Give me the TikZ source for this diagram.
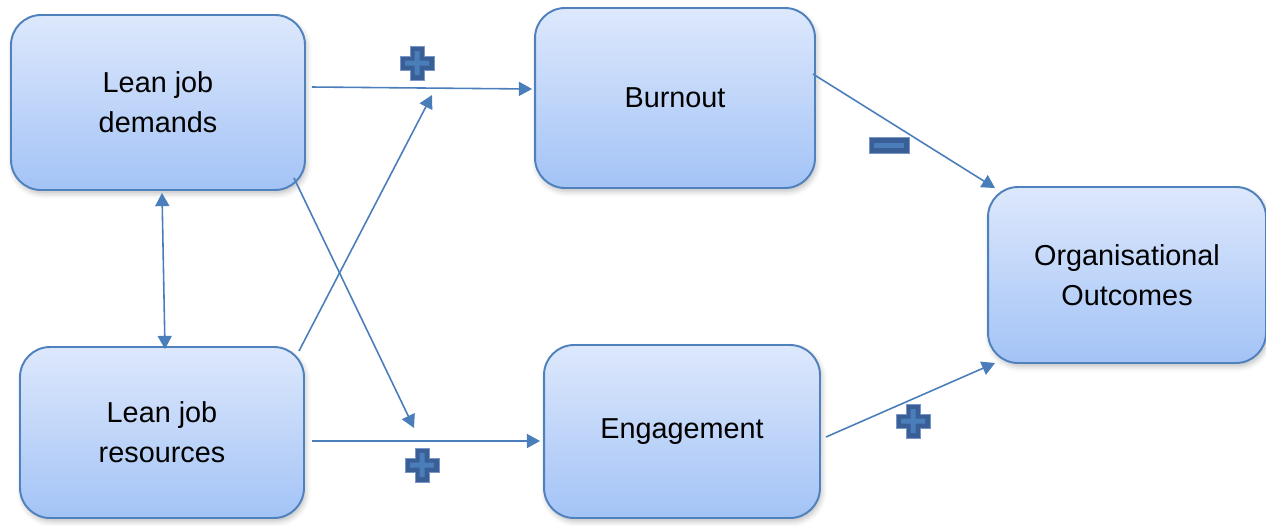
\documentclass[tikz,border=0pt]{standalone}
\usepackage{fontspec}
\setmainfont{Liberation Sans}
\definecolor{boxtop}{RGB}{221, 232, 252}
\definecolor{boxbot}{RGB}{163, 195, 246}
\definecolor{boxedge}{RGB}{79, 129, 189}
\definecolor{linkblue}{RGB}{74, 126, 187}
\definecolor{signfill}{RGB}{58, 95, 150}
\definecolor{signedge}{RGB}{120, 150, 200}
\usetikzlibrary{arrows.meta, positioning, calc, shadows.blur}

\begin{document}
\begin{tikzpicture}[x=0.02cm, y=-0.02cm,
  cbox/.style={draw=boxedge, line width=1.1pt, rounded corners=0.6cm, top color=boxtop, bottom color=boxbot,
    blur shadow={shadow xshift=1pt, shadow yshift=-2pt, shadow blur radius=3pt, shadow opacity=25},
    align=center, font=\fontsize{16.4}{22.7}\selectfont},
  link/.style={draw=linkblue, line width=0.9pt, -{Triangle[length=7.5pt, width=8pt]}},
  plussign/.pic={
    \filldraw[fill=signfill, draw=signedge, line width=0.5pt] (-7,-17) -- (7,-17) -- (7,-7) -- (17,-7) -- (17,7) -- (7,7) -- (7,17) -- (-7,17) -- (-7,7) -- (-17,7) -- (-17,-7) -- (-7,-7) -- cycle;
    \fill[linkblue] (-2.5,-12) rectangle (2.5,12) (-12,-2.5) rectangle (12,2.5);
  },
  minussign/.pic={
    \filldraw[fill=signfill, draw=signedge, line width=0.5pt] (-20,-8) rectangle (20,8);
    \fill[linkblue] (-15,-2.5) rectangle (15,2.5);
  }
]
  \useasboundingbox (0,0) rectangle (1266,525);

  % the five boxes
  \node[cbox, minimum width=5.88cm, minimum height=3.5cm] (dem) at (158,102.5) {Lean job\\demands};
  \node[cbox, minimum width=5.68cm, minimum height=3.42cm] (res) at (162,432.5) {Lean job\\resources};
  \node[cbox, minimum width=5.6cm, minimum height=3.6cm] (burn) at (675,98) {Burnout};
  \node[cbox, minimum width=5.52cm, minimum height=3.46cm] (eng) at (682,431.5) {Engagement};
  \node[cbox, minimum width=5.56cm, minimum height=3.52cm] (out) at (1127,275) {Organisational\\Outcomes};

  % free ends of the crossing arrows
  \coordinate (resend) at (432,95);
  \coordinate (demend) at (414,428);

  % links
  \draw[link] ($(dem.east)+(6,-15.5)$) -- ($(burn.west)+(-2,-9)$);
  \draw[link] ($(res.north east)+(-6,5)$) -- (resend);
  \draw[link] ($(dem.south east)+(-12,-13)$) -- (demend);
  \draw[link] ($(res.east)+(7,8.5)$) -- ($(eng.west)+(-3,9.5)$);
  \draw[link, {Triangle[length=7.5pt, width=8pt]}-{Triangle[length=7.5pt, width=8pt]}] ($(dem.south)+(4,2)$) -- ($(res.north)+(3,3)$);
  \draw[link] ($(burn.east)+(-3,-24)$) -- ($(out.north west)+(8,2)$);
  \draw[link] ($(eng.east)+(5,5.5)$) -- ($(out.south west)+(8,-1)$);

  % signs
  \pic at (417,63) {plussign};
  \pic at (422,465) {plussign};
  \pic at (913,421) {plussign};
  \pic at (889,145) {minussign};
\end{tikzpicture}
\end{document}
